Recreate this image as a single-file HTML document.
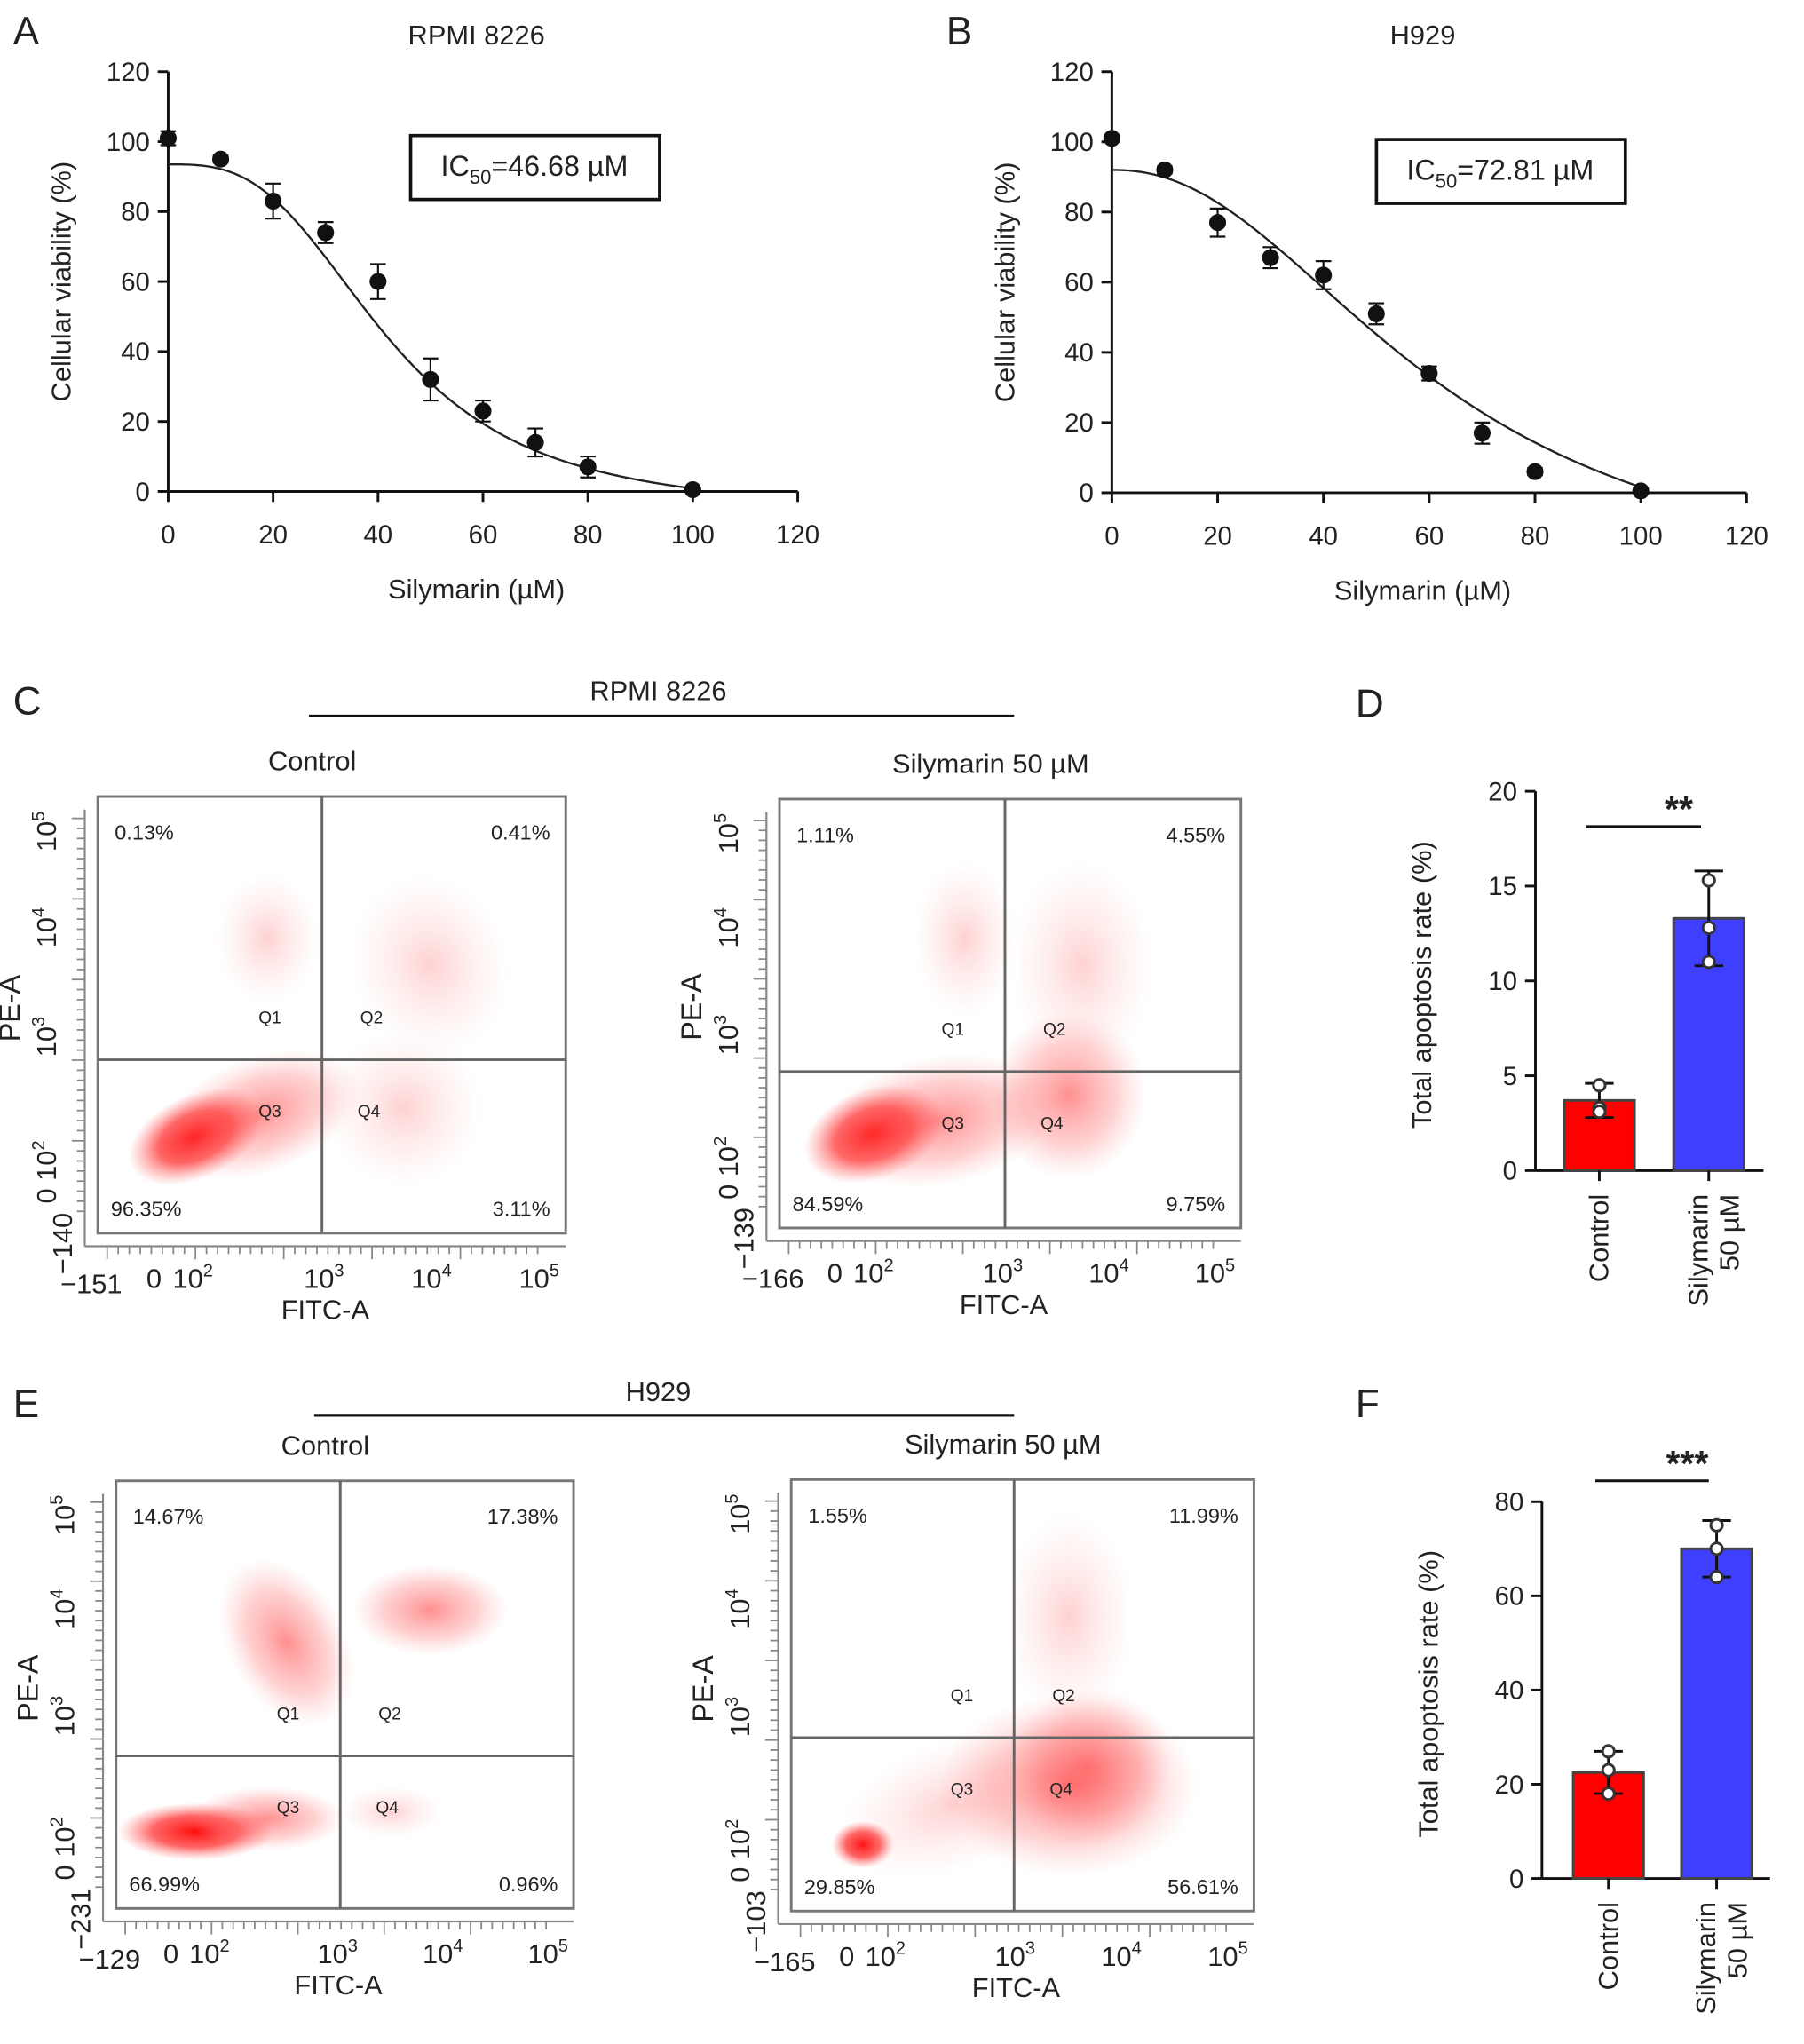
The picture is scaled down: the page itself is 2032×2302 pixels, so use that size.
<!DOCTYPE html>
<html><head><meta charset="utf-8"><style>
html,body{margin:0;padding:0;background:#fff}
svg{display:block}
text{font-family:"Liberation Sans",Arial,sans-serif;fill:#222}
</style></head><body>
<svg id="fig" width="2032" height="2302" viewBox="0 0 1384 1568" xmlns="http://www.w3.org/2000/svg">
<defs>
<radialGradient id="gDense"><stop offset="0" stop-color="#f00" stop-opacity="0.95"/><stop offset="0.55" stop-color="#f22" stop-opacity="0.7"/><stop offset="1" stop-color="#f66" stop-opacity="0"/></radialGradient>
<radialGradient id="gMid"><stop offset="0" stop-color="#f33" stop-opacity="0.55"/><stop offset="0.6" stop-color="#f66" stop-opacity="0.3"/><stop offset="1" stop-color="#f99" stop-opacity="0"/></radialGradient>
<radialGradient id="gLight"><stop offset="0" stop-color="#f66" stop-opacity="0.3"/><stop offset="1" stop-color="#faa" stop-opacity="0"/></radialGradient>
</defs>
<g id="root"></g>
</svg>
<script>
// ---- Panel A/B data ----
const concA = [0,10,20,30,40,50,60,70,80,100];
const viabA = [101,95,83,74,60,32,23,14,7,0.5];
const errA  = [2,1,5,3,5,6,3,4,3,0.5];
const fitA  = {bottom:-6, top:93.5, ic50:42, hill:3};
const concB = [0,10,20,30,40,50,60,70,80,100];
const viabB = [101,92,77,67,62,51,34,17,6,0.5];
const errB  = [1,1,4,3,4,3,2,3,1,0.5];
const fitB  = {bottom:-30, top:92, ic50:62, hill:2.2};
const yTicksV = [0,20,40,60,80,100,120];
const xTicksV = [0,20,40,60,80,100,120];
// ---- Bar data ----
const barCats = ["Control","Silymarin 50 µM"];
const barD = [3.7,13.3];
const errD = [0.9,2.5];
const ptsD = [[4.5,3.3,3.1],[15.3,12.8,11.0]];
const yTicksD = [0,5,10,15,20];
const barF = [22.5,70];
const errF = [4.5,6];
const ptsF = [[27,23,18],[75,70,64]];
const yTicksF = [0,20,40,60,80];

const NS="http://www.w3.org/2000/svg";
const root=document.getElementById('root');
function el(tag,attrs,parent,txt){const e=document.createElementNS(NS,tag);for(const k in attrs)e.setAttribute(k,attrs[k]);if(txt!==undefined)e.textContent=txt;(parent||root).appendChild(e);return e;}

function letter(t,x,y){const e=el('text',{x:x,y:y,'font-size':30},root,t);

}
letter('A',10,34);letter('B',726,34);letter('C',10,548);letter('D',1040,550);letter('E',10,1087);letter('F',1040,1087);

function doseChart(id,X0,X1,Y0,Y1,conc,viab,err,fit,title,icText){
  const g=el('g',{});
  
  
  const xs=v=>X0+(X1-X0)*v/120, ys=v=>Y0-(Y0-Y1)*v/120;
  el('text',{x:(X0+X1)/2-5,y:34,'font-size':21,'text-anchor':'middle'},g,title);
  el('line',{x1:X0,y1:Y0,x2:X1,y2:Y0,stroke:'#111','stroke-width':2},g);
  el('line',{x1:X0,y1:Y0,x2:X0,y2:Y1,stroke:'#111','stroke-width':2},g);
  yTicksV.forEach(v=>{el('line',{x1:X0-8,y1:ys(v),x2:X0,y2:ys(v),stroke:'#111','stroke-width':2},g);
    el('text',{x:X0-14,y:ys(v)+7,'font-size':20,'text-anchor':'end'},g,v);});
  xTicksV.forEach(v=>{el('line',{x1:xs(v),y1:Y0,x2:xs(v),y2:Y0+8,stroke:'#111','stroke-width':2},g);
    el('text',{x:xs(v),y:Y0+40,'font-size':20,'text-anchor':'middle'},g,v);});
  el('text',{x:(X0+X1)/2-5,y:Y0+82,'font-size':21,'text-anchor':'middle'},g,'Silymarin (µM)');
  const yt=el('text',{x:0,y:0,'font-size':21,'text-anchor':'middle',transform:`translate(${X0-75},${(Y0+Y1)/2}) rotate(-90)`},g,'Cellular viability (%)');
  
  let d='';for(let x=0;x<=100;x+=0.5){let v=fit.bottom+(fit.top-fit.bottom)/(1+Math.pow(x/fit.ic50,fit.hill));if(v<0){d+=`L${xs(x)},${ys(0)}`;break;}d+=(d?'L':'M')+xs(x)+','+ys(v);}
  const c=el('path',{d:d,fill:'none',stroke:'#222','stroke-width':1.6},g);
  
  conc.forEach((cv,i)=>{const x=xs(cv),y=ys(viab[i]),e=(Y0-Y1)/120*err[i];
    el('line',{x1:x,y1:y-e,x2:x,y2:y+e,stroke:'#111','stroke-width':1.5},g);
    el('line',{x1:x-6,y1:y-e,x2:x+6,y2:y-e,stroke:'#111','stroke-width':1.5},g);
    el('line',{x1:x-6,y1:y+e,x2:x+6,y2:y+e,stroke:'#111','stroke-width':1.5},g);
    const p=el('circle',{cx:x,cy:y,r:6.5,fill:'#111'},g);
    
    });
  return g;
}
const gA=doseChart('a',129,612,377,55,concA,viabA,errA,fitA,'RPMI 8226');
el('rect',{x:315,y:104,width:191,height:49,fill:'none',stroke:'#111','stroke-width':2.5},gA);
const ta=el('text',{x:410,y:135,'font-size':22,'text-anchor':'middle'},gA);ta.innerHTML='IC<tspan font-size="15" dy="6">50</tspan><tspan dy="-6">=46.68 µM</tspan>';
const gB=doseChart('b',853,1340,378,55,concB,viabB,errB,fitB,'H929');
el('rect',{x:1056,y:107,width:191,height:49,fill:'none',stroke:'#111','stroke-width':2.5},gB);
const tb=el('text',{x:1151,y:138,'font-size':22,'text-anchor':'middle'},gB);tb.innerHTML='IC<tspan font-size="15" dy="6">50</tspan><tspan dy="-6">=72.81 µM</tspan>';

// headers
function header(t,x,y,lx1,lx2,ly,n){const h=el('text',{x:x,y:y,'font-size':21,'text-anchor':'middle'},root,t);
el('line',{x1:lx1,y1:ly,x2:lx2,y2:ly,stroke:'#111','stroke-width':1.5});}
header('RPMI 8226',505,537,237,778,549,'c-cell-line-title');
header('H929',505,1075,241,778,1086,'e-cell-line-title');

// flow plots
function sup(parent,x,y,base,exp,size,extra){const t=el('text',Object.assign({x:x,y:y,'font-size':size},extra||{}),parent);t.innerHTML=base+'<tspan font-size="'+(size*0.65)+'" dy="-9">'+exp+'</tspan>';return t;}
function flow(id,title,bx0,bx1,by0,by1,vx,hy,pct,negX,negY,blobs){
  const g=el('g',{});
  
  
  el('text',{x:(bx0+bx1)/2-15,y:by0-20,'font-size':21,'text-anchor':'middle'},g,title);
  const cl='clip'+id;const cp=el('clipPath',{id:cl},g);el('rect',{x:bx0,y:by0,width:bx1-bx0,height:by1-by0},cp);
  const bg=el('g',{'clip-path':`url(#${cl})`},g);
  blobs.forEach(b=>{el('ellipse',{cx:b[0],cy:b[1],rx:b[2],ry:b[3],fill:`url(#${b[4]})`,transform:`rotate(${b[5]||0} ${b[0]} ${b[1]})`},bg);});
  el('rect',{x:bx0,y:by0,width:bx1-bx0,height:by1-by0,fill:'none',stroke:'#777','stroke-width':2},g);
  el('line',{x1:vx,y1:by0,x2:vx,y2:by1,stroke:'#666','stroke-width':2},g);
  el('line',{x1:bx0,y1:hy,x2:bx1,y2:hy,stroke:'#666','stroke-width':2},g);
  const W=bx1-bx0,H=by1-by0;
  [['Q1',vx-40,hy-28],['Q2',vx+38,hy-28],['Q3',vx-40,hy+44],['Q4',vx+36,hy+44]].forEach(q=>el('text',{x:q[1],y:q[2],'font-size':13,fill:'#555','text-anchor':'middle'},g,q[0]));
  el('text',{x:bx0+13,y:by0+33,'font-size':16},g,pct[0]);
  el('text',{x:bx1-12,y:by0+33,'font-size':16,'text-anchor':'end'},g,pct[1]);
  el('text',{x:bx0+10,y:by1-13,'font-size':16},g,pct[2]);
  el('text',{x:bx1-12,y:by1-13,'font-size':16,'text-anchor':'end'},g,pct[3]);
  el('line',{x1:bx0-10,y1:by1+10,x2:bx1,y2:by1+10,stroke:'#888','stroke-width':1.5},g);
  el('line',{x1:bx0-10,y1:by0+10,x2:bx0-10,y2:by1+10,stroke:'#888','stroke-width':1.5},g);
  for(let i=0;i<40;i++){const x=bx0+W*(0.02+0.92*i/39);el('line',{x1:x,y1:by1+10,x2:x,y2:by1+(i%8==0?20:16),stroke:'#888','stroke-width':1.2},g);
    const y=by0+H*(0.05+0.9*i/39);el('line',{x1:bx0-10,y1:y,x2:bx0-(i%8==0?20:16),y2:y,stroke:'#888','stroke-width':1.2},g);}
  const ly=by1+42;
  el('text',{x:bx0+W*0.0-5,y:ly+4,'font-size':21,'text-anchor':'middle'},g,'−'+negX);
  el('text',{x:bx0+W*0.12,y:ly,'font-size':21,'text-anchor':'middle'},g,'0');
  sup(g,bx0+W*0.16,ly,'10','2',21);
  sup(g,bx0+W*0.44,ly,'10','3',21);
  sup(g,bx0+W*0.67,ly,'10','4',21);
  sup(g,bx0+W*0.9,ly,'10','5',21);
  el('text',{x:(bx0+bx1)/2-5,y:by1+66,'font-size':21,'text-anchor':'middle'},g,'FITC-A');
  const rx=bx0-32;
  el('text',{x:0,y:0,'font-size':21,'text-anchor':'middle',transform:`translate(${rx+12},${by1+8}) rotate(-90)`},g,'−'+negY);
  const ylab=[[0.86,'0 10','2'],[0.55,'10','3'],[0.3,'10','4'],[0.08,'10','5']];
  ylab.forEach(l=>{const cy=by0+H*l[0];sup(g,0,0,l[1],l[2],21,{'text-anchor':'middle',transform:`translate(${rx},${cy}) rotate(-90)`});});
  el('text',{x:0,y:0,'font-size':22,'text-anchor':'middle',transform:`translate(${rx-28},${(by0+by1)/2-5}) rotate(-90)`},g,'PE-A');
}
flow('c-control','Control',75,434,611,946,247,813,['0.13%','0.41%','96.35%','3.11%'],151,140,
 [[150,872,55,32,'gDense',-25],[200,855,80,45,'gMid',-20],[310,850,60,60,'gLight',0],[330,740,60,70,'gLight',-20],[205,720,40,50,'gLight',0]]);
flow('c-sil','Silymarin 50 µM',598,952,613,942,771,822,['1.11%','4.55%','84.59%','9.75%'],166,139,
 [[670,870,55,35,'gDense',-20],[720,860,90,50,'gMid',-10],[820,840,60,65,'gMid',0],[830,740,55,80,'gLight',0],[740,720,40,60,'gLight',0]]);
flow('e-control','Control',89,440,1136,1464,261,1347,['14.67%','17.38%','66.99%','0.96%'],129,231,
 [[150,1405,60,22,'gDense',0],[205,1395,60,25,'gMid',0],[220,1260,45,70,'gMid',-30],[330,1235,60,35,'gMid',0],[300,1390,40,20,'gLight',0]]);
flow('e-sil','Silymarin 50 µM',607,962,1135,1466,778,1333,['1.55%','11.99%','29.85%','56.61%'],165,103,
 [[662,1415,24,18,'gDense',0],[835,1355,65,60,'gMid',-20],[730,1385,90,50,'gLight',-20],[820,1240,50,80,'gLight',0],[820,1370,100,70,'gMid',0]]);

// bar charts
function barChart(id,X0,Y0,Y1,ymax,ticks,vals,errs,pts,stars,sigY,bx){
  const g=el('g',{});
  
  
  const ys=v=>Y0-(Y0-Y1)*v/ymax;
  el('line',{x1:X0,y1:Y0,x2:X0,y2:Y1,stroke:'#111','stroke-width':2},g);
  el('line',{x1:X0,y1:Y0,x2:X0+175,y2:Y0,stroke:'#111','stroke-width':2},g);
  ticks.forEach(v=>{el('line',{x1:X0-8,y1:ys(v),x2:X0,y2:ys(v),stroke:'#111','stroke-width':2},g);
    el('text',{x:X0-14,y:ys(v)+7,'font-size':20,'text-anchor':'end'},g,v);});
  el('text',{x:0,y:0,'font-size':21,'text-anchor':'middle',transform:`translate(${X0-80},${(Y0+Y1)/2+3}) rotate(-90)`},g,'Total apoptosis rate (%)');
  const colors=['#f00','#3f3fff'];
  vals.forEach((v,i)=>{const x=bx[i];
    const r=el('rect',{x:x,y:ys(v),width:54,height:Y0-ys(v),fill:colors[i],stroke:'#444','stroke-width':2},g);
    
    
    const cx=x+27,t=ys(v+errs[i]),b=ys(v-errs[i]);
    el('line',{x1:cx,y1:t,x2:cx,y2:b,stroke:'#111','stroke-width':2},g);
    el('line',{x1:cx-11,y1:t,x2:cx+11,y2:t,stroke:'#111','stroke-width':2},g);
    el('line',{x1:cx-11,y1:b,x2:cx+11,y2:b,stroke:'#111','stroke-width':2},g);
    pts[i].forEach(p=>{const c=el('circle',{cx:cx,cy:ys(p),r:4.5,fill:'#fff',stroke:'#333','stroke-width':2},g);
      });
    el('line',{x1:cx,y1:Y0,x2:cx,y2:Y0+8,stroke:'#111','stroke-width':2},g);
  });
  el('text',{x:0,y:0,'font-size':21,'text-anchor':'end',transform:`translate(${bx[0]+34},${Y0+18}) rotate(-90)`},g,'Control');
  el('text',{x:0,y:0,'font-size':21,'text-anchor':'end',transform:`translate(${bx[1]+26},${Y0+18}) rotate(-90)`},g,'Silymarin');
  el('text',{x:0,y:0,'font-size':21,'text-anchor':'end',transform:`translate(${bx[1]+50},${Y0+18}) rotate(-90)`},g,'50 µM');
  el('line',{x1:bx[0]+17,y1:sigY,x2:bx[1]+21,y2:sigY,stroke:'#111','stroke-width':2},g);
  el('text',{x:(bx[0]+bx[1])/2+46,y:sigY-4,'font-size':28,'font-weight':'bold','text-anchor':'middle'},g,stars);
}
barChart('d',1178,898,607,20,yTicksD,barD,errD,ptsD,'**',634,[1200,1284]);
barChart('f',1183,1441,1152,80,yTicksF,barF,errF,ptsF,'***',1136,[1207,1290]);
</script>
</body></html>
